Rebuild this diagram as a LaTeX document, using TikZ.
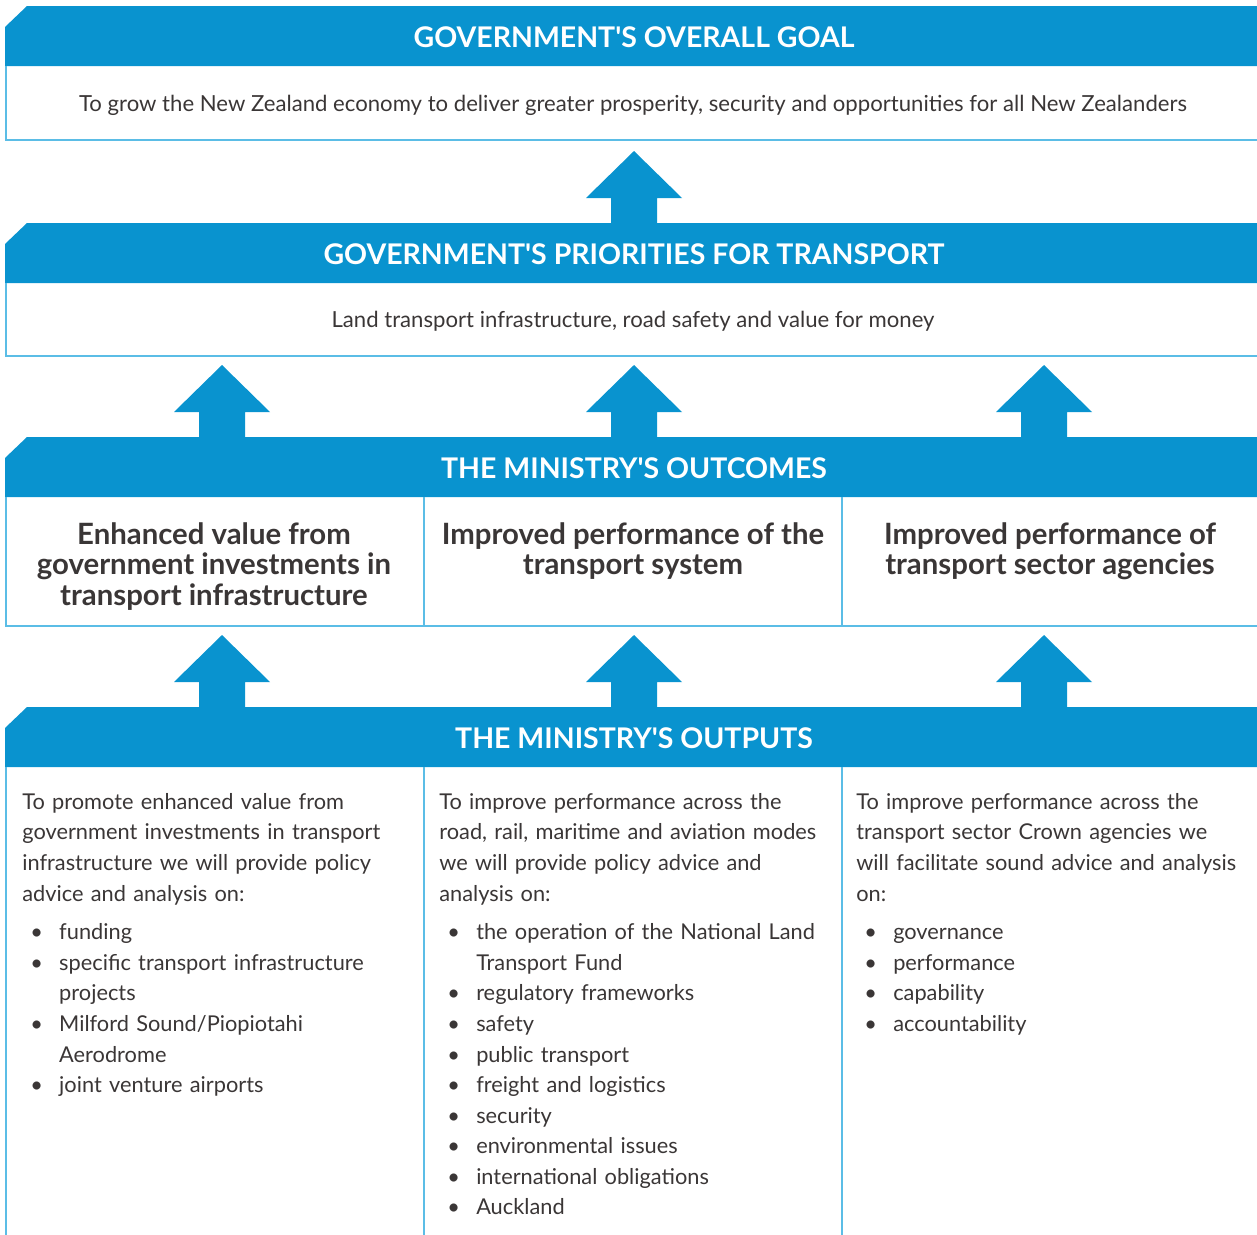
\documentclass[tikz,border=0pt]{standalone}
\usepackage{fontspec}
\setmainfont{Lato}
\newfontfamily\headfont{Lato}
\definecolor{mblue}{HTML}{0993CF}
\definecolor{lblue}{HTML}{5BBDE6}
\definecolor{txtgray}{HTML}{3A3636}

% up arrow between two boxes: x of tip, y of tip
\newcommand{\uparr}[2]{\fill[mblue] (#1-23,#2+73) -- (#1-23,#2+47) -- (#1-48,#2+47) -- (#1,#2) -- (#1+48,#2+47) -- (#1+23,#2+47) -- (#1+23,#2+73) -- cycle;}
% blue band with cut corner: y of top
\newcommand{\band}[1]{\fill[mblue] (5,#1+21) -- (27,#1) -- (1262,#1) -- (1262,#1+60) -- (5,#1+60) -- cycle;}

\newcommand{\bulletlbl}[1]{#1\hfil}
\newenvironment{blist}{\begin{list}{\textbullet}{\setlength{\leftmargin}{21pt}\setlength{\labelwidth}{16.5pt}\setlength{\labelsep}{0pt}\setlength{\itemsep}{0pt}\setlength{\parsep}{0pt}\setlength{\topsep}{4.6pt}\setlength{\partopsep}{0pt}\let\makelabel\bulletlbl}}{\end{list}}

\begin{document}
\begin{tikzpicture}[x=0.02cm,y=-0.02cm,
  frame/.style={draw=lblue,line width=1.1pt},
  head/.style={text=white,font=\headfont\bfseries\fontsize{16.2}{18}\selectfont},
  body/.style={text=txtgray,font=\fontsize{12.6}{17.4}\selectfont},
  outcome/.style={text=txtgray,align=center,anchor=north,font=\bfseries\fontsize{16.7}{17.4}\selectfont},
  output/.style={text=txtgray,align=left,anchor=north west,text width=8cm,inner sep=0pt,font=\fontsize{12.4}{17.4}\selectfont}]

  \clip (0,0) rectangle (1257,1234);

  % goal
  \band{6}
  \draw[frame] (6,66) -- (6,140) -- (1262,140);
  \node[head] (goal) at (634,37) {GOVERNMENT'S OVERALL GOAL};
  \node[body] (goaltxt) at (633,105) {To grow the New Zealand economy to deliver greater prosperity, security and opportunities for all New Zealanders};
  \uparr{634}{151}

  % priorities
  \band{223}
  \draw[frame] (6,283) -- (6,356) -- (1262,356);
  \node[head] (prio) at (634,254) {GOVERNMENT'S PRIORITIES FOR TRANSPORT};
  \node[body] (priotxt) at (633,321) {Land transport infrastructure, road safety and value for money};
  \foreach \x in {222,634,1044} {\uparr{\x}{365}}

  % outcomes
  \band{437}
  \draw[frame] (6,497) -- (6,626) -- (1262,626);
  \draw[frame] (424,497) -- (424,626);
  \draw[frame] (842,497) -- (842,626);
  \node[head] (outc) at (634,468) {THE MINISTRY'S OUTCOMES};
  \node[outcome] (oc1) at (214,516) {Enhanced value from\\government investments in\\transport infrastructure};
  \node[outcome] (oc2) at (633,516) {Improved performance of the\\transport system};
  \node[outcome] (oc3) at (1050,516) {Improved performance of\\transport sector agencies};
  \foreach \x in {222,634,1044} {\uparr{\x}{635}}

  % outputs
  \band{707}
  \draw[frame] (6,767) -- (6,1240);
  \draw[frame] (424,767) -- (424,1240);
  \draw[frame] (842,767) -- (842,1240);
  \node[head] (outp) at (634,738) {THE MINISTRY'S OUTPUTS};
  \node[output] (op1) at (22,793) {To promote enhanced value from\\government investments in transport\\infrastructure we will provide policy\\advice and analysis on:
    \begin{blist}
      \item funding
      \item specific transport infrastructure\\projects
      \item Milford Sound/Piopiotahi\\Aerodrome
      \item joint venture airports
    \end{blist}};
  \node[output] (op2) at (439,793) {To improve performance across the\\road, rail, maritime and aviation modes\\we will provide policy advice and\\analysis on:
    \begin{blist}
      \item the operation of the National Land\\Transport Fund
      \item regulatory frameworks
      \item safety
      \item public transport
      \item freight and logistics
      \item security
      \item environmental issues
      \item international obligations
      \item Auckland
    \end{blist}};
  \node[output] (op3) at (856,793) {To improve performance across the\\transport sector Crown agencies we\\will facilitate sound advice and analysis\\on:
    \begin{blist}
      \item governance
      \item performance
      \item capability
      \item accountability
    \end{blist}};
\end{tikzpicture}
\end{document}
